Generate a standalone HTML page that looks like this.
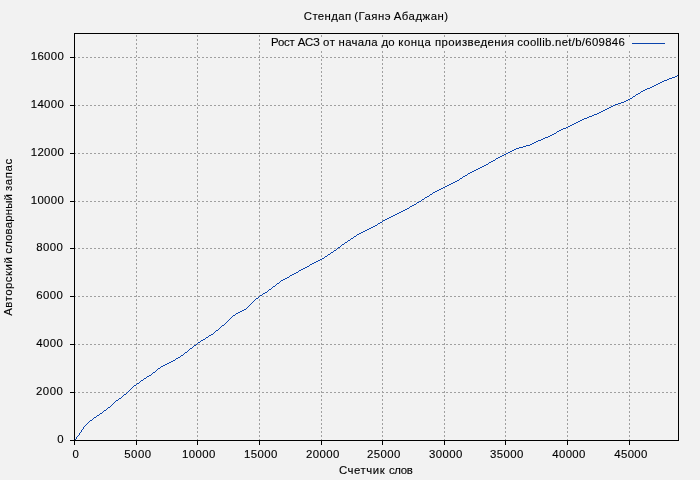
<!DOCTYPE html>
<html><head><meta charset="utf-8"><title>chart</title>
<style>
html,body{margin:0;padding:0;background:#f2f2f2;}
body{width:700px;height:480px;overflow:hidden;}
svg{display:block;}
svg{will-change:transform;}
text{font-family:"Liberation Sans",sans-serif;font-size:11.4px;fill:#000;stroke:#000;stroke-width:0.12px;}
</style></head><body>
<svg width="700" height="480" viewBox="0 0 700 480">
<rect x="0" y="0" width="700" height="480" fill="#f2f2f2"/>

<g stroke="#a0a0a0" stroke-width="1" stroke-dasharray="2 2" shape-rendering="crispEdges" fill="none">
<line x1="136.5" y1="441" x2="136.5" y2="33.5"/>
<line x1="197.5" y1="441" x2="197.5" y2="33.5"/>
<line x1="259.5" y1="441" x2="259.5" y2="33.5"/>
<line x1="321.5" y1="441" x2="321.5" y2="33.5"/>
<line x1="382.5" y1="441" x2="382.5" y2="33.5"/>
<line x1="444.5" y1="441" x2="444.5" y2="33.5"/>
<line x1="505.5" y1="441" x2="505.5" y2="33.5"/>
<line x1="567.5" y1="441" x2="567.5" y2="33.5"/>
<line x1="629.5" y1="441" x2="629.5" y2="33.5"/>
<line x1="74" y1="392.5" x2="678.5" y2="392.5"/>
<line x1="74" y1="344.5" x2="678.5" y2="344.5"/>
<line x1="74" y1="296.5" x2="678.5" y2="296.5"/>
<line x1="74" y1="248.5" x2="678.5" y2="248.5"/>
<line x1="74" y1="201.5" x2="678.5" y2="201.5"/>
<line x1="74" y1="153.5" x2="678.5" y2="153.5"/>
<line x1="74" y1="105.5" x2="678.5" y2="105.5"/>
<line x1="74" y1="57.5" x2="678.5" y2="57.5"/>
</g>
<rect x="268" y="38" width="402" height="13" fill="#f2f2f2"/>
<g stroke="#000" stroke-width="1" shape-rendering="crispEdges">
<line x1="74.5" y1="440.5" x2="74.5" y2="445.0"/>
<line x1="136.5" y1="440.5" x2="136.5" y2="445.0"/>
<line x1="197.5" y1="440.5" x2="197.5" y2="445.0"/>
<line x1="259.5" y1="440.5" x2="259.5" y2="445.0"/>
<line x1="321.5" y1="440.5" x2="321.5" y2="445.0"/>
<line x1="382.5" y1="440.5" x2="382.5" y2="445.0"/>
<line x1="444.5" y1="440.5" x2="444.5" y2="445.0"/>
<line x1="505.5" y1="440.5" x2="505.5" y2="445.0"/>
<line x1="567.5" y1="440.5" x2="567.5" y2="445.0"/>
<line x1="629.5" y1="440.5" x2="629.5" y2="445.0"/>
<line x1="70.0" y1="440.5" x2="74.5" y2="440.5"/>
<line x1="70.0" y1="392.5" x2="74.5" y2="392.5"/>
<line x1="70.0" y1="344.5" x2="74.5" y2="344.5"/>
<line x1="70.0" y1="296.5" x2="74.5" y2="296.5"/>
<line x1="70.0" y1="248.5" x2="74.5" y2="248.5"/>
<line x1="70.0" y1="201.5" x2="74.5" y2="201.5"/>
<line x1="70.0" y1="153.5" x2="74.5" y2="153.5"/>
<line x1="70.0" y1="105.5" x2="74.5" y2="105.5"/>
<line x1="70.0" y1="57.5" x2="74.5" y2="57.5"/>
</g>
<path d="M677 75h2v1h-2zM675 76h2v1h-2zM672 77h3v1h-3zM669 78h3v1h-3zM667 79h2v1h-2zM664 80h3v1h-3zM662 81h2v1h-2zM660 82h2v1h-2zM658 83h2v1h-2zM656 84h2v1h-2zM654 85h2v1h-2zM652 86h2v1h-2zM650 87h2v1h-2zM647 88h3v1h-3zM645 89h2v1h-2zM643 90h2v1h-2zM641 91h2v1h-2zM640 92h1v1h-1zM638 93h2v1h-2zM636 94h2v1h-2zM635 95h1v1h-1zM633 96h2v1h-2zM632 97h1v1h-1zM630 98h2v1h-2zM628 99h2v1h-2zM626 100h2v1h-2zM624 101h2v1h-2zM621 102h3v1h-3zM618 103h3v1h-3zM615 104h3v1h-3zM613 105h2v1h-2zM611 106h2v1h-2zM609 107h2v1h-2zM607 108h2v1h-2zM605 109h2v1h-2zM603 110h2v1h-2zM601 111h2v1h-2zM599 112h2v1h-2zM597 113h2v1h-2zM594 114h3v1h-3zM592 115h2v1h-2zM589 116h3v1h-3zM587 117h2v1h-2zM584 118h3v1h-3zM582 119h2v1h-2zM580 120h2v1h-2zM578 121h2v1h-2zM576 122h2v1h-2zM574 123h2v1h-2zM572 124h2v1h-2zM570 125h2v1h-2zM568 126h2v1h-2zM566 127h2v1h-2zM563 128h3v1h-3zM561 129h2v1h-2zM559 130h2v1h-2zM557 131h2v1h-2zM556 132h1v1h-1zM554 133h2v1h-2zM552 134h2v1h-2zM550 135h2v1h-2zM548 136h2v1h-2zM545 137h3v1h-3zM543 138h2v1h-2zM541 139h2v1h-2zM538 140h3v1h-3zM536 141h2v1h-2zM534 142h2v1h-2zM532 143h2v1h-2zM530 144h2v1h-2zM526 145h4v1h-4zM523 146h3v1h-3zM519 147h4v1h-4zM516 148h3v1h-3zM514 149h2v1h-2zM512 150h2v1h-2zM510 151h2v1h-2zM508 152h2v1h-2zM506 153h2v1h-2zM504 154h2v1h-2zM502 155h2v1h-2zM500 156h2v1h-2zM498 157h2v1h-2zM496 158h2v1h-2zM495 159h1v1h-1zM493 160h2v1h-2zM491 161h2v1h-2zM489 162h2v1h-2zM488 163h1v1h-1zM486 164h2v1h-2zM484 165h2v1h-2zM482 166h2v1h-2zM480 167h2v1h-2zM478 168h2v1h-2zM476 169h2v1h-2zM474 170h2v1h-2zM472 171h2v1h-2zM470 172h2v1h-2zM468 173h2v1h-2zM467 174h1v1h-1zM465 175h2v1h-2zM463 176h2v1h-2zM462 177h1v1h-1zM460 178h2v1h-2zM459 179h1v1h-1zM457 180h2v1h-2zM455 181h2v1h-2zM453 182h2v1h-2zM451 183h2v1h-2zM449 184h2v1h-2zM447 185h2v1h-2zM445 186h2v1h-2zM443 187h2v1h-2zM441 188h2v1h-2zM439 189h2v1h-2zM437 190h2v1h-2zM435 191h2v1h-2zM433 192h2v1h-2zM432 193h1v1h-1zM430 194h2v1h-2zM429 195h1v1h-1zM427 196h2v1h-2zM425 197h2v1h-2zM424 198h1v1h-1zM422 199h2v1h-2zM421 200h1v1h-1zM419 201h2v1h-2zM417 202h2v1h-2zM416 203h1v1h-1zM414 204h2v1h-2zM412 205h2v1h-2zM410 206h2v1h-2zM409 207h1v1h-1zM407 208h2v1h-2zM405 209h2v1h-2zM403 210h2v1h-2zM401 211h2v1h-2zM399 212h2v1h-2zM397 213h2v1h-2zM395 214h2v1h-2zM393 215h2v1h-2zM391 216h2v1h-2zM389 217h2v1h-2zM387 218h2v1h-2zM385 219h2v1h-2zM383 220h2v1h-2zM382 221h1v1h-1zM380 222h2v1h-2zM378 223h2v1h-2zM377 224h1v1h-1zM375 225h2v1h-2zM373 226h2v1h-2zM371 227h2v1h-2zM369 228h2v1h-2zM367 229h2v1h-2zM365 230h2v1h-2zM363 231h2v1h-2zM361 232h2v1h-2zM359 233h2v1h-2zM357 234h2v1h-2zM356 235h1v1h-1zM354 236h2v1h-2zM353 237h1v1h-1zM351 238h2v1h-2zM350 239h1v1h-1zM348 240h2v1h-2zM347 241h1v1h-1zM345 242h2v1h-2zM344 243h1v1h-1zM342 244h2v1h-2zM341 245h1v1h-1zM340 246h1v1h-1zM338 247h2v1h-2zM337 248h1v1h-1zM336 249h1v1h-1zM334 250h2v1h-2zM333 251h1v1h-1zM331 252h2v1h-2zM330 253h1v1h-1zM328 254h2v1h-2zM327 255h1v1h-1zM325 256h2v1h-2zM324 257h1v1h-1zM322 258h2v1h-2zM320 259h2v1h-2zM318 260h2v1h-2zM316 261h2v1h-2zM314 262h2v1h-2zM312 263h2v1h-2zM310 264h2v1h-2zM309 265h1v1h-1zM307 266h2v1h-2zM305 267h2v1h-2zM303 268h2v1h-2zM301 269h2v1h-2zM299 270h2v1h-2zM298 271h1v1h-1zM296 272h2v1h-2zM294 273h2v1h-2zM292 274h2v1h-2zM290 275h2v1h-2zM289 276h1v1h-1zM287 277h2v1h-2zM285 278h2v1h-2zM283 279h2v1h-2zM281 280h2v1h-2zM280 281h1v1h-1zM279 282h1v1h-1zM277 283h2v1h-2zM276 284h1v1h-1zM275 285h1v1h-1zM273 286h2v1h-2zM272 287h1v1h-1zM271 288h1v1h-1zM269 289h2v1h-2zM268 290h1v1h-1zM267 291h1v1h-1zM265 292h2v1h-2zM263 293h2v1h-2zM262 294h1v1h-1zM260 295h2v1h-2zM259 296h1v1h-1zM258 297h1v1h-1zM256 298h2v1h-2zM255 299h1v1h-1zM254 300h1v1h-1zM253 301h1v1h-1zM252 302h1v1h-1zM251 303h1v1h-1zM250 304h1v1h-1zM249 305h1v1h-1zM248 306h1v1h-1zM247 307h1v1h-1zM246 308h1v1h-1zM244 309h2v1h-2zM242 310h2v1h-2zM240 311h2v1h-2zM238 312h2v1h-2zM236 313h2v1h-2zM235 314h1v1h-1zM233 315h2v1h-2zM232 316h1v1h-1zM231 317h1v1h-1zM230 318h1v1h-1zM229 319h1v1h-1zM228 320h1v1h-1zM227 321h1v1h-1zM226 322h1v1h-1zM225 323h1v1h-1zM224 324h1v1h-1zM222 325h2v1h-2zM221 326h1v1h-1zM220 327h1v1h-1zM219 328h1v1h-1zM218 329h1v1h-1zM216 330h2v1h-2zM215 331h1v1h-1zM214 332h1v1h-1zM213 333h1v1h-1zM211 334h2v1h-2zM209 335h2v1h-2zM208 336h1v1h-1zM206 337h2v1h-2zM205 338h1v1h-1zM203 339h2v1h-2zM201 340h2v1h-2zM200 341h1v1h-1zM198 342h2v1h-2zM197 343h1v1h-1zM196 344h1v1h-1zM194 345h2v1h-2zM193 346h1v1h-1zM192 347h1v1h-1zM190 348h2v1h-2zM189 349h1v1h-1zM188 350h1v1h-1zM187 351h1v1h-1zM185 352h2v1h-2zM184 353h1v1h-1zM183 354h1v1h-1zM181 355h2v1h-2zM180 356h1v1h-1zM178 357h2v1h-2zM176 358h2v1h-2zM175 359h1v1h-1zM173 360h2v1h-2zM171 361h2v1h-2zM169 362h2v1h-2zM167 363h2v1h-2zM165 364h2v1h-2zM163 365h2v1h-2zM161 366h2v1h-2zM160 367h1v1h-1zM158 368h2v1h-2zM157 369h1v1h-1zM156 370h1v1h-1zM155 371h1v1h-1zM153 372h2v1h-2zM152 373h1v1h-1zM151 374h1v1h-1zM149 375h2v1h-2zM147 376h2v1h-2zM146 377h1v1h-1zM144 378h2v1h-2zM143 379h1v1h-1zM141 380h2v1h-2zM140 381h1v1h-1zM139 382h1v1h-1zM137 383h2v1h-2zM136 384h1v1h-1zM134 385h2v1h-2zM133 386h1v1h-1zM132 387h1v1h-1zM131 388h1v1h-1zM130 389h1v1h-1zM129 390h1v1h-1zM128 391h1v1h-1zM127 392h1v1h-1zM126 393h1v1h-1zM124 394h2v1h-2zM123 395h1v1h-1zM122 396h1v1h-1zM121 397h1v1h-1zM119 398h2v1h-2zM118 399h1v1h-1zM116 400h2v1h-2zM115 401h1v1h-1zM114 402h1v1h-1zM113 403h1v1h-1zM112 404h1v1h-1zM111 405h1v1h-1zM110 406h1v1h-1zM108 407h2v1h-2zM107 408h1v1h-1zM106 409h1v1h-1zM104 410h2v1h-2zM103 411h1v1h-1zM102 412h1v1h-1zM100 413h2v1h-2zM99 414h1v1h-1zM97 415h2v1h-2zM96 416h1v1h-1zM94 417h2v1h-2zM93 418h1v1h-1zM92 419h1v1h-1zM90 420h2v1h-2zM89 421h1v1h-1zM88 422h1v1h-1zM87 423h1v1h-1zM86 424h1v1h-1zM85 425h1v1h-1zM84 426h1v1h-1zM83 427h1v1h-1zM83 428h1v1h-1zM82 429h1v1h-1zM81 430h1v1h-1zM81 431h1v1h-1zM80 432h1v1h-1zM79 433h1v1h-1zM79 434h1v1h-1zM78 435h1v1h-1zM77 436h1v1h-1zM76 437h1v1h-1zM76 438h1v1h-1zM75 439h1v1h-1zM74 440h1v1h-1z" fill="#0a43ac" shape-rendering="crispEdges"/>
<rect x="74.5" y="33.5" width="604.0" height="407.0" fill="none" stroke="#000" stroke-width="1" shape-rendering="crispEdges"/>
<line x1="632" y1="43.5" x2="665" y2="43.5" stroke="#0a43ac" stroke-width="1" shape-rendering="crispEdges"/>
<text x="303.81" y="20.2" textLength="47.27" lengthAdjust="spacing">Стендап</text>
<text x="354.26" y="20.2" textLength="36.26" lengthAdjust="spacing">(Гаянэ</text>
<text x="393.74" y="20.2" textLength="54.34" lengthAdjust="spacing">Абаджан)</text>
<text x="271.03" y="46" textLength="23.80" lengthAdjust="spacing">Рост</text>
<text x="297.74" y="46" textLength="22.15" lengthAdjust="spacing">АСЗ</text>
<text x="322.93" y="46" textLength="12.12" lengthAdjust="spacing">от</text>
<text x="338.59" y="46" textLength="39.05" lengthAdjust="spacing">начала</text>
<text x="381.49" y="46" textLength="13.11" lengthAdjust="spacing">до</text>
<text x="398.36" y="46" textLength="32.58" lengthAdjust="spacing">конца</text>
<text x="434.97" y="46" textLength="78.99" lengthAdjust="spacing">произведения</text>
<text x="517.28" y="46" textLength="107.53" lengthAdjust="spacing">coollib.net/b/609846</text>
<text x="338.93" y="474" textLength="45.74" lengthAdjust="spacing">Счетчик</text>
<text x="389.06" y="474" textLength="23.71" lengthAdjust="spacing">слов</text>
<text transform="translate(12.3,315.75) rotate(-90)" textLength="58.54" lengthAdjust="spacing">Авторский</text>
<text transform="translate(12.3,253.69) rotate(-90)" textLength="59.56" lengthAdjust="spacing">словарный</text>
<text transform="translate(12.3,191.07) rotate(-90)" textLength="32.27" lengthAdjust="spacing">запас</text>
<text x="57.36" y="443" textLength="6.80" lengthAdjust="spacing">0</text>
<text x="36.00" y="395" textLength="26.87" lengthAdjust="spacing">2000</text>
<text x="36.34" y="347" textLength="26.45" lengthAdjust="spacing">4000</text>
<text x="36.14" y="299" textLength="26.70" lengthAdjust="spacing">6000</text>
<text x="36.20" y="251" textLength="26.61" lengthAdjust="spacing">8000</text>
<text x="30.69" y="204" textLength="33.09" lengthAdjust="spacing">10000</text>
<text x="30.69" y="156" textLength="33.09" lengthAdjust="spacing">12000</text>
<text x="30.69" y="108" textLength="33.09" lengthAdjust="spacing">14000</text>
<text x="30.69" y="60" textLength="33.09" lengthAdjust="spacing">16000</text>
<text x="72.49" y="458" textLength="6.80" lengthAdjust="spacing">0</text>
<text x="124.33" y="458" textLength="26.69" lengthAdjust="spacing">5000</text>
<text x="182.07" y="458" textLength="33.35" lengthAdjust="spacing">10000</text>
<text x="244.07" y="458" textLength="33.35" lengthAdjust="spacing">15000</text>
<text x="305.88" y="458" textLength="33.57" lengthAdjust="spacing">20000</text>
<text x="366.88" y="458" textLength="33.57" lengthAdjust="spacing">25000</text>
<text x="429.04" y="458" textLength="33.40" lengthAdjust="spacing">30000</text>
<text x="490.04" y="458" textLength="33.40" lengthAdjust="spacing">35000</text>
<text x="552.26" y="458" textLength="33.14" lengthAdjust="spacing">40000</text>
<text x="614.26" y="458" textLength="33.14" lengthAdjust="spacing">45000</text>
</svg></body></html>
